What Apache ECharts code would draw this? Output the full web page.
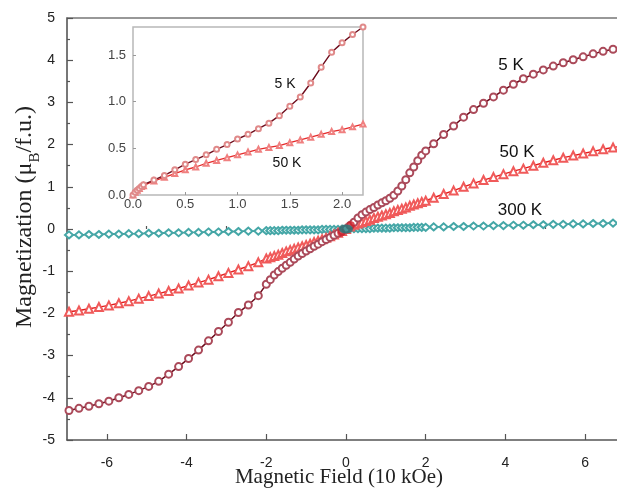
<!DOCTYPE html>
<html>
<head>
<meta charset="utf-8">
<script src="https://cdn.jsdelivr.net/npm/echarts@6/dist/echarts.min.js"></script>
<style>html,body{margin:0;padding:0;background:#fff}#c{width:617px;height:488px}</style>
</head>
<body>
<div id="c"></div>
<script>
// ---- main panel data: field (10 kOe) and magnetization (muB/f.u.)
const field = [-6.95,-6.7,-6.45,-6.2,-5.95,-5.7,-5.45,-5.2,-4.95,-4.7,-4.45,-4.2,-3.95,-3.7,-3.45,-3.2,-2.95,-2.7,-2.45,-2.2,
  -2.0,-1.9,-1.8,-1.7,-1.6,-1.5,-1.4,-1.3,-1.2,-1.1,-1.0,-0.9,-0.8,-0.7,-0.6,-0.5,-0.4,-0.3,-0.2,-0.1,0,
  0.1,0.2,0.3,0.4,0.5,0.6,0.7,0.8,0.9,1.0,1.1,1.2,1.3,1.4,1.5,1.6,1.7,1.8,1.9,2.0,
  2.2,2.45,2.7,2.95,3.2,3.45,3.7,3.95,4.2,4.45,4.7,4.95,5.2,5.45,5.7,5.95,6.2,6.45,6.7,6.95];
const m5K = [-4.30,-4.25,-4.20,-4.14,-4.08,-4.00,-3.92,-3.83,-3.73,-3.61,-3.44,-3.26,-3.07,-2.87,-2.65,-2.43,-2.21,-1.98,-1.80,-1.58,
  -1.31,-1.20,-1.09,-1.01,-0.93,-0.86,-0.79,-0.71,-0.64,-0.58,-0.52,-0.47,-0.41,-0.36,-0.30,-0.25,-0.20,-0.15,-0.10,-0.05,0,
  0.08,0.16,0.26,0.34,0.40,0.46,0.51,0.57,0.62,0.67,0.73,0.80,0.90,1.02,1.17,1.33,1.47,1.62,1.75,1.85,
  2.02,2.24,2.44,2.65,2.83,2.98,3.13,3.29,3.43,3.56,3.67,3.77,3.86,3.94,4.01,4.08,4.15,4.21,4.26,4.30];
const m50K = [-1.96,-1.93,-1.89,-1.85,-1.81,-1.76,-1.71,-1.65,-1.59,-1.53,-1.47,-1.41,-1.34,-1.27,-1.20,-1.12,-1.04,-0.96,-0.88,-0.79,
  -0.70,-0.67,-0.64,-0.61,-0.57,-0.53,-0.50,-0.47,-0.44,-0.41,-0.38,-0.35,-0.31,-0.28,-0.24,-0.21,-0.17,-0.13,-0.09,-0.05,0,
  0.06,0.10,0.13,0.16,0.19,0.22,0.26,0.29,0.32,0.35,0.38,0.42,0.45,0.48,0.51,0.55,0.58,0.61,0.64,0.67,
  0.74,0.83,0.91,1.00,1.08,1.16,1.23,1.30,1.37,1.43,1.50,1.57,1.63,1.69,1.74,1.79,1.84,1.89,1.93,1.97];
const m300K = [-0.14,-0.14,-0.13,-0.13,-0.12,-0.12,-0.11,-0.11,-0.10,-0.10,-0.09,-0.09,-0.08,-0.08,-0.07,-0.07,-0.06,-0.06,-0.05,-0.05,
  -0.04,-0.04,-0.04,-0.04,-0.03,-0.03,-0.03,-0.03,-0.03,-0.02,-0.02,-0.02,-0.02,-0.02,-0.01,-0.01,-0.01,-0.01,-0.01,0,0,
  0,0.01,0.01,0.01,0.01,0.01,0.02,0.02,0.02,0.02,0.02,0.03,0.03,0.03,0.03,0.03,0.04,0.04,0.04,0.04,
  0.05,0.05,0.06,0.06,0.07,0.07,0.08,0.08,0.09,0.09,0.10,0.10,0.11,0.11,0.12,0.12,0.13,0.13,0.14,0.14];
// dense overlap spot at the origin
const blobField = [-0.12, 0.12];
const blobValue = [-0.08, 0.09];

// ---- inset data (low-field region)
const insetField = [0,0.02,0.04,0.06,0.08,0.1,0.2,0.3,0.4,0.5,0.6,0.7,0.8,0.9,1.0,1.1,1.2,1.3,1.4,1.5,1.6,1.7,1.8,1.9,2.0,2.1,2.2];
const in5K = [0,0.03,0.05,0.07,0.09,0.11,0.16,0.21,0.27,0.33,0.38,0.43,0.49,0.54,0.60,0.65,0.71,0.77,0.85,0.95,1.05,1.20,1.37,1.53,1.63,1.72,1.80];
const in50K = [0,0.03,0.05,0.07,0.09,0.10,0.15,0.19,0.23,0.27,0.30,0.34,0.37,0.40,0.43,0.46,0.49,0.51,0.53,0.56,0.59,0.62,0.65,0.68,0.70,0.73,0.76];

// ---- ticks / labels
const xMajorTicks = [-6,-4,-2,0,2,4,6];
const xMinorTicks = [-5,-3,-1,1,3,5];
const insetXTicks = [0,0.5,1.0,1.5,2.0];
const insetYTicks = [0,0.5,1.0,1.5];
const curveLabels = [
  {text:'5 K', x:511, y:65, size:17},
  {text:'50 K', x:517, y:152, size:17},
  {text:'300 K', x:520, y:210, size:17},
  {text:'5 K', x:285, y:84, size:14},
  {text:'50 K', x:287, y:163, size:14}
];

const zip = (a,b) => a.map((v,i)=>[v,b[i]]);
const SANS = '"Liberation Sans", Arial, sans-serif';
const SERIF = '"Liberation Serif", "Times New Roman", serif';
const AX = '#555';

const chart = echarts.init(document.getElementById('c'), null, {renderer:'canvas'});
const option = {
  animation: false,
  backgroundColor: '#fff',
  grid: [
    {left:67, top:18, right:-8, bottom:48, outerBoundsMode:'none', containLabel:false},
    {left:133, top:27, width:230, height:168, show:true, borderColor:'#b8b8b8', borderWidth:1.5, backgroundColor:'#fff',
     outerBoundsMode:'none', containLabel:false}
  ],
  xAxis: [
    {gridIndex:0, type:'value', min:-7, max:7,
     axisLine:{show:true, onZero:false, lineStyle:{color:AX, width:1.6}},
     axisTick:{show:true, inside:true, length:6, customValues:xMajorTicks, lineStyle:{color:AX, width:1.2}},
     axisLabel:{customValues:xMajorTicks, fontSize:14, color:'#222', fontFamily:SANS, margin:16},
     splitLine:{show:false},
     name:'Magnetic Field (10 kOe)', nameLocation:'middle', nameGap:27, nameMoveOverlap:false,
     nameTextStyle:{fontFamily:SERIF, fontSize:21, color:'#222', padding:[0,14,0,0]}},
    {gridIndex:0, type:'value', min:-7, max:7, position:'bottom',
     axisLine:{show:false}, axisTick:{show:true, inside:true, length:3, customValues:xMinorTicks, lineStyle:{color:AX, width:1.2}},
     axisLabel:{show:false}, splitLine:{show:false}},
    {gridIndex:0, type:'value', min:-7, max:7, position:'top',
     axisLine:{show:true, onZero:false, lineStyle:{color:'#777', width:1.6}}, axisTick:{show:false},
     axisLabel:{show:false}, splitLine:{show:false}},
    {gridIndex:1, type:'value', min:0, max:2.2,
     axisLine:{show:false}, axisTick:{show:true, inside:true, length:3, customValues:insetXTicks, lineStyle:{color:'#999'}},
     axisLabel:{customValues:insetXTicks, formatter:v=>v.toFixed(1), fontSize:13, color:'#444', fontFamily:SANS, margin:3},
     splitLine:{show:false}}
  ],
  yAxis: [
    {gridIndex:0, type:'value', min:-5, max:5, interval:1,
     axisLine:{show:true, onZero:false, lineStyle:{color:AX, width:1.6}},
     axisTick:{show:true, inside:true, length:6, lineStyle:{color:AX, width:1.2}},
     minorTick:{show:true, splitNumber:2, length:3, lineStyle:{color:AX, width:1.2}},
     axisLabel:{fontSize:14, color:'#222', fontFamily:SANS, margin:12},
     splitLine:{show:false}, minorSplitLine:{show:false},
     name:'{a|Magnetization (μ}{s|B}{a|/f.u.)}', nameLocation:'middle', nameGap:24, nameRotate:90, nameMoveOverlap:false,
     nameTextStyle:{fontFamily:SERIF, fontSize:24, color:'#222', padding:[0,0,0,24],
       rich:{a:{fontFamily:SERIF, fontSize:24, color:'#222', lineHeight:26, verticalAlign:'top'},
             s:{fontFamily:SERIF, fontSize:15, color:'#222', lineHeight:30, verticalAlign:'bottom'}}}},
    {gridIndex:1, type:'value', min:0, max:1.8,
     axisLine:{show:false}, axisTick:{show:true, inside:true, length:3, customValues:insetYTicks, lineStyle:{color:'#999'}},
     axisLabel:{customValues:insetYTicks, formatter:v=>v.toFixed(1), fontSize:13, color:'#444', fontFamily:SANS, margin:7},
     splitLine:{show:false}}
  ],
  series: [
    {name:'300 K', type:'line', xAxisIndex:0, yAxisIndex:0, data:zip(field,m300K),
     symbol:'emptyDiamond', symbolSize:[8,7], lineStyle:{color:'#1d6b6b', width:1.4},
     itemStyle:{color:'#45a7a7', borderWidth:1.1}, z:3},
    {name:'50 K', type:'line', xAxisIndex:0, yAxisIndex:0, data:zip(field,m50K),
     symbol:'emptyTriangle', symbolSize:8, lineStyle:{color:'#e31b1b', width:1.4},
     itemStyle:{color:'#f05a5a', borderWidth:1.1}, z:4},
    {name:'5 K', type:'line', xAxisIndex:0, yAxisIndex:0, data:zip(field,m5K),
     symbol:'emptyCircle', symbolSize:7, lineStyle:{color:'#6d0c1c', width:1.5},
     itemStyle:{color:'#ab4a5a', borderWidth:1.1}, z:5},
    {name:'origin-red', type:'scatter', xAxisIndex:0, yAxisIndex:0, data:zip(blobField,blobValue),
     symbol:'circle', symbolSize:8, itemStyle:{color:'#d0202a'}, z:6},
    {name:'origin', type:'scatter', xAxisIndex:0, yAxisIndex:0, data:[[0,0]],
     symbol:'circle', symbolSize:[14,9], itemStyle:{color:'#1f7d7f'}, z:7},
    {name:'inset 50 K', type:'line', xAxisIndex:3, yAxisIndex:1, data:zip(insetField,in50K),
     symbol:'emptyTriangle', symbolSize:5, lineStyle:{color:'#e52a2a', width:1.3},
     itemStyle:{color:'#f08080', borderWidth:1}, z:4},
    {name:'inset 5 K', type:'line', xAxisIndex:3, yAxisIndex:1, data:zip(insetField,in5K),
     symbol:'emptyCircle', symbolSize:5, lineStyle:{color:'#6d0c1c', width:1.4},
     itemStyle:{color:'#e08a8a', borderWidth:1}, z:5}
  ],
  graphic: curveLabels.map(l => ({
    type:'text', x:l.x, y:l.y, z:100,
    style:{text:l.text, fill:'#111', font:l.size+'px '+SANS, align:'center', verticalAlign:'middle',
           textAlign:'center', textVerticalAlign:'middle'}
  }))
};
chart.setOption(option);
</script>
</body>
</html>
